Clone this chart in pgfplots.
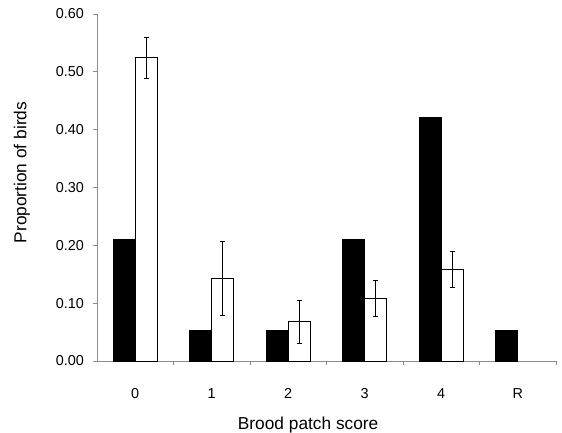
\documentclass[border=0pt]{standalone}
\usepackage{pgfplots}
\pgfplotsset{compat=1.18}
\usepackage{fontspec}
\setmainfont{Liberation Sans}
\definecolor{axgray}{RGB}{140,140,140}
\begin{document}
\begin{tikzpicture}[x=1pt,y=1pt]
\useasboundingbox (-97,-71) rectangle (465,361);
\begin{axis}[
  at={(0,0)}, anchor=south west,
  scale only axis, width=459pt, height=347pt,
  xmin=-0.5, xmax=5.5, ymin=0, ymax=0.6,
  axis x line=bottom, axis y line=left,
  axis line style={axgray, line width=0.8pt, -},
  tick style={axgray, line width=0.8pt},
  tick align=outside,
  xtick={0,1,2,3,4,5},
  xticklabels={0,1,2,3,4,R},
  major x tick style={draw=none},
  minor xtick={0.5,1.5,2.5,3.5,4.5,5.5},
  minor tick length=4pt,
  major tick length=4pt,
  ytick={0,0.1,0.2,0.3,0.4,0.5,0.6},
  /pgf/number format/assume math mode=true,
  yticklabel style={/pgf/number format/.cd, fixed, fixed zerofill, precision=2, /tikz/.cd, font=\fontsize{14.4}{16}\selectfont, inner sep=0pt, anchor=east, xshift=-9pt},
  xticklabel style={font=\fontsize{14.4}{16}\selectfont, inner sep=0pt, anchor=base, yshift=-33pt},
  xlabel={Brood patch score},
  ylabel={Proportion of birds},
  xlabel style={font=\fontsize{17.3}{20}\selectfont, at={(axis description cs:0.46,0)}, anchor=base, yshift=-68pt, inner sep=0pt},
  ylabel style={font=\fontsize{17.3}{20}\selectfont, at={(axis description cs:-0.1634,0.543)}, anchor=center, inner sep=0pt},
  ybar=0pt, bar width=22pt,
  clip=false,
]
\addplot[fill=black, draw=black, line width=0.6pt] coordinates {
  (0,0.2105) (1,0.0526) (2,0.0526) (3,0.2105) (4,0.4211) (5,0.0526)};
\addplot[fill=white, draw=black, line width=1pt,
  error bars/.cd, y dir=both, y explicit,
  error bar style={black, line width=0.7pt},
  error mark options={rotate=90, mark size=2.5pt, line width=0.7pt, black}]
  coordinates {
  (0,0.524) +- (0,0.035)
  (1,0.143) +- (0,0.064)
  (2,0.068) +- (0,0.037)
  (3,0.108) +- (0,0.031)
  (4,0.158) +- (0,0.031)
  };
\end{axis}
\end{tikzpicture}
\end{document}
